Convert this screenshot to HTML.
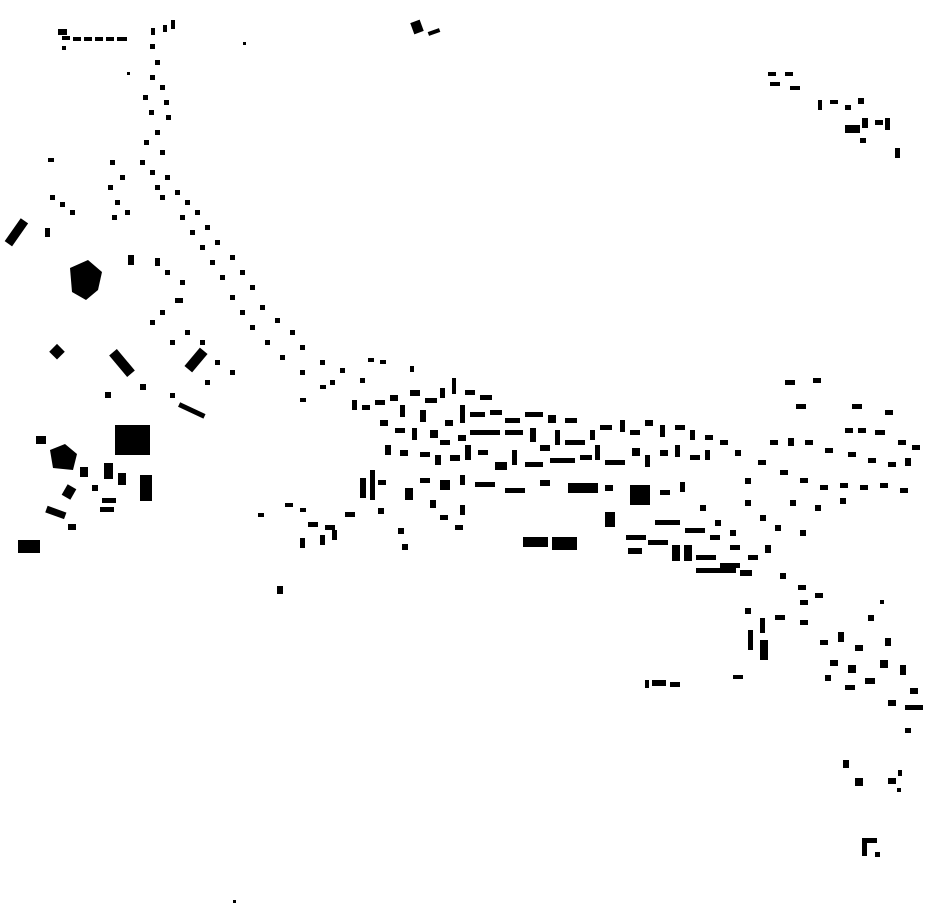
<!DOCTYPE html>
<html><head><meta charset="utf-8"><style>html,body{margin:0;padding:0;background:#fff}svg{display:block}</style></head>
<body>
<svg width="930" height="924" viewBox="0 0 930 924" xmlns="http://www.w3.org/2000/svg">
<g fill="#000">
<rect x="58" y="29" width="9" height="6"/>
<rect x="62" y="36" width="8" height="4"/><rect x="73" y="37" width="8" height="4"/><rect x="84" y="37" width="8" height="4"/><rect x="95" y="37" width="8" height="4"/><rect x="106" y="37" width="8" height="4"/><rect x="117" y="37" width="10" height="4"/>
<rect x="62" y="46" width="4" height="4"/>
<rect x="151" y="28" width="4" height="7"/><rect x="163" y="25" width="4" height="7"/><rect x="171" y="20" width="4" height="9"/><rect x="243" y="42" width="3" height="3"/>
<rect x="412" y="21" width="10" height="12" transform="rotate(-20 417 27)"/><rect x="428" y="30" width="12" height="4" transform="rotate(-20 434 32)"/>
<g>
<rect x="150" y="44" width="5" height="5"/><rect x="155" y="60" width="5" height="5"/><rect x="150" y="75" width="5" height="5"/><rect x="160" y="85" width="5" height="5"/><rect x="143" y="95" width="5" height="5"/><rect x="164" y="100" width="5" height="5"/><rect x="149" y="110" width="5" height="5"/><rect x="166" y="115" width="5" height="5"/><rect x="155" y="130" width="5" height="5"/><rect x="144" y="140" width="5" height="5"/><rect x="160" y="150" width="5" height="5"/><rect x="140" y="160" width="5" height="5"/><rect x="150" y="170" width="5" height="5"/><rect x="165" y="175" width="5" height="5"/><rect x="155" y="185" width="5" height="5"/><rect x="175" y="190" width="5" height="5"/><rect x="160" y="195" width="5" height="5"/><rect x="185" y="200" width="5" height="5"/><rect x="195" y="210" width="5" height="5"/><rect x="180" y="215" width="5" height="5"/><rect x="205" y="225" width="5" height="5"/><rect x="190" y="230" width="5" height="5"/><rect x="215" y="240" width="5" height="5"/><rect x="200" y="245" width="5" height="5"/><rect x="230" y="255" width="5" height="5"/><rect x="210" y="260" width="5" height="5"/><rect x="240" y="270" width="5" height="5"/><rect x="220" y="275" width="5" height="5"/><rect x="250" y="285" width="5" height="5"/><rect x="230" y="295" width="5" height="5"/><rect x="260" y="305" width="5" height="5"/><rect x="240" y="310" width="5" height="5"/><rect x="275" y="318" width="5" height="5"/><rect x="250" y="325" width="5" height="5"/><rect x="290" y="330" width="5" height="5"/><rect x="265" y="340" width="5" height="5"/><rect x="300" y="345" width="5" height="5"/><rect x="280" y="355" width="5" height="5"/><rect x="320" y="360" width="5" height="5"/><rect x="300" y="370" width="5" height="5"/><rect x="340" y="368" width="5" height="5"/><rect x="330" y="380" width="5" height="5"/><rect x="360" y="378" width="5" height="5"/><rect x="380" y="360" width="6" height="4"/><rect x="368" y="358" width="6" height="4"/><rect x="410" y="366" width="4" height="6"/>
<rect x="110" y="160" width="5" height="5"/><rect x="120" y="175" width="5" height="5"/><rect x="108" y="185" width="5" height="5"/><rect x="115" y="200" width="5" height="5"/><rect x="125" y="210" width="5" height="5"/><rect x="112" y="215" width="5" height="5"/><rect x="48" y="158" width="6" height="4"/><rect x="50" y="195" width="5" height="5"/><rect x="60" y="202" width="5" height="5"/><rect x="70" y="210" width="5" height="5"/><rect x="45" y="228" width="5" height="9"/><rect x="128" y="255" width="6" height="10"/><rect x="155" y="258" width="5" height="8"/><rect x="165" y="270" width="5" height="5"/><rect x="180" y="280" width="5" height="5"/><rect x="175" y="298" width="8" height="5"/><rect x="160" y="310" width="5" height="5"/><rect x="150" y="320" width="5" height="5"/><rect x="185" y="330" width="5" height="5"/><rect x="200" y="340" width="5" height="5"/><rect x="170" y="340" width="5" height="5"/><rect x="215" y="360" width="5" height="5"/><rect x="230" y="370" width="5" height="5"/><rect x="205" y="380" width="5" height="5"/><rect x="170" y="393" width="5" height="5"/><rect x="300" y="398" width="6" height="4"/><rect x="320" y="385" width="6" height="4"/><rect x="140" y="384" width="6" height="6"/><rect x="105" y="392" width="6" height="6"/>
</g>
<rect x="2" y="228" width="28" height="9" transform="rotate(-55 16 232)"/>
<path d="M70 268l18-8 14 12-4 18-12 10-14-8z"/>
<rect x="52" y="346" width="11" height="11" transform="rotate(45 57 351)"/>
<rect x="108" y="358" width="28" height="10" transform="rotate(50 122 363)"/>
<rect x="184" y="355" width="24" height="10" transform="rotate(-50 196 360)"/>
<rect x="178" y="408" width="28" height="5" transform="rotate(25 192 410)"/>
<rect x="115" y="425" width="35" height="30"/>
<path d="M50 450l15-6 12 10-4 16-20-2z"/>
<rect x="140" y="475" width="12" height="26"/><rect x="104" y="463" width="9" height="16"/><rect x="64" y="486" width="10" height="12" transform="rotate(30 69 492)"/><rect x="18" y="540" width="22" height="13"/><rect x="46" y="509" width="20" height="7" transform="rotate(20 56 512)"/><rect x="36" y="436" width="10" height="8"/><rect x="80" y="467" width="8" height="10"/><rect x="118" y="473" width="8" height="12"/><rect x="102" y="498" width="14" height="5"/><rect x="100" y="507" width="14" height="5"/><rect x="68" y="524" width="8" height="6"/><rect x="92" y="485" width="6" height="6"/>
<g>
<rect x="352" y="400" width="5" height="10"/><rect x="362" y="405" width="8" height="5"/><rect x="375" y="400" width="10" height="5"/><rect x="390" y="395" width="8" height="6"/><rect x="400" y="405" width="5" height="12"/><rect x="410" y="390" width="10" height="6"/><rect x="425" y="398" width="12" height="5"/><rect x="420" y="410" width="6" height="12"/><rect x="440" y="388" width="5" height="10"/><rect x="452" y="378" width="4" height="16"/><rect x="465" y="390" width="10" height="5"/><rect x="480" y="395" width="12" height="5"/><rect x="460" y="405" width="5" height="18"/><rect x="470" y="412" width="15" height="5"/><rect x="490" y="410" width="12" height="5"/><rect x="505" y="418" width="15" height="5"/><rect x="525" y="412" width="18" height="5"/><rect x="548" y="415" width="8" height="8"/><rect x="565" y="418" width="12" height="5"/><rect x="380" y="420" width="8" height="6"/><rect x="395" y="428" width="10" height="5"/><rect x="412" y="428" width="5" height="12"/><rect x="430" y="430" width="8" height="8"/><rect x="445" y="420" width="8" height="6"/><rect x="440" y="440" width="10" height="5"/><rect x="458" y="435" width="8" height="6"/><rect x="470" y="430" width="30" height="5"/><rect x="505" y="430" width="18" height="5"/><rect x="530" y="428" width="6" height="14"/><rect x="540" y="445" width="10" height="6"/><rect x="555" y="430" width="5" height="15"/><rect x="565" y="440" width="20" height="5"/><rect x="590" y="430" width="5" height="10"/><rect x="600" y="425" width="12" height="5"/><rect x="620" y="420" width="5" height="12"/><rect x="630" y="430" width="10" height="5"/><rect x="645" y="420" width="8" height="6"/><rect x="660" y="425" width="5" height="12"/><rect x="675" y="425" width="10" height="5"/><rect x="690" y="430" width="5" height="10"/><rect x="705" y="435" width="8" height="5"/><rect x="385" y="445" width="6" height="10"/><rect x="400" y="450" width="8" height="6"/><rect x="420" y="452" width="10" height="5"/><rect x="435" y="455" width="6" height="10"/><rect x="450" y="455" width="10" height="6"/><rect x="465" y="445" width="6" height="15"/><rect x="478" y="450" width="10" height="5"/><rect x="495" y="462" width="12" height="8"/><rect x="512" y="450" width="5" height="15"/><rect x="525" y="462" width="18" height="5"/><rect x="550" y="458" width="25" height="5"/><rect x="580" y="455" width="12" height="5"/><rect x="595" y="445" width="5" height="15"/><rect x="605" y="460" width="20" height="5"/><rect x="632" y="448" width="8" height="8"/><rect x="645" y="455" width="5" height="12"/><rect x="660" y="450" width="8" height="6"/><rect x="675" y="445" width="5" height="12"/><rect x="690" y="455" width="10" height="5"/><rect x="705" y="450" width="5" height="10"/><rect x="720" y="440" width="8" height="5"/><rect x="735" y="450" width="6" height="6"/><rect x="370" y="470" width="5" height="30"/><rect x="378" y="480" width="8" height="5"/><rect x="405" y="488" width="8" height="12"/><rect x="420" y="478" width="10" height="5"/><rect x="440" y="480" width="10" height="10"/><rect x="460" y="475" width="5" height="10"/><rect x="475" y="482" width="20" height="5"/><rect x="505" y="488" width="20" height="5"/><rect x="540" y="480" width="10" height="6"/><rect x="568" y="483" width="30" height="10"/><rect x="605" y="485" width="8" height="6"/><rect x="630" y="485" width="20" height="20"/><rect x="660" y="490" width="10" height="5"/><rect x="680" y="482" width="5" height="10"/><rect x="360" y="478" width="6" height="20"/><rect x="430" y="500" width="6" height="8"/><rect x="460" y="505" width="5" height="10"/><rect x="440" y="515" width="8" height="5"/><rect x="455" y="525" width="8" height="5"/>
</g>
<rect x="523" y="537" width="25" height="10"/><rect x="552" y="537" width="25" height="13"/>
<rect x="605" y="512" width="10" height="15"/><rect x="628" y="548" width="14" height="6"/><rect x="626" y="535" width="20" height="5"/><rect x="648" y="540" width="20" height="5"/><rect x="672" y="545" width="8" height="16"/><rect x="684" y="545" width="8" height="16"/><rect x="696" y="555" width="20" height="5"/><rect x="696" y="568" width="40" height="5"/><rect x="720" y="563" width="20" height="5"/><rect x="740" y="570" width="12" height="6"/><rect x="655" y="520" width="25" height="5"/><rect x="685" y="528" width="20" height="5"/><rect x="710" y="535" width="10" height="5"/><rect x="730" y="545" width="10" height="5"/><rect x="748" y="555" width="10" height="5"/><rect x="765" y="545" width="6" height="8"/><rect x="700" y="505" width="6" height="6"/><rect x="715" y="520" width="6" height="6"/><rect x="730" y="530" width="6" height="6"/><rect x="745" y="500" width="6" height="6"/><rect x="760" y="515" width="6" height="6"/>
<g>
<rect x="768" y="72" width="8" height="4"/><rect x="785" y="72" width="8" height="4"/><rect x="770" y="82" width="10" height="4"/><rect x="790" y="86" width="10" height="4"/><rect x="818" y="100" width="4" height="10"/><rect x="830" y="100" width="8" height="4"/><rect x="845" y="105" width="6" height="5"/><rect x="858" y="98" width="6" height="6"/><rect x="845" y="125" width="15" height="8"/><rect x="862" y="118" width="6" height="10"/><rect x="875" y="120" width="8" height="5"/><rect x="885" y="118" width="5" height="12"/><rect x="895" y="148" width="5" height="10"/><rect x="860" y="138" width="6" height="5"/>
<rect x="785" y="380" width="10" height="5"/><rect x="813" y="378" width="8" height="5"/><rect x="796" y="404" width="10" height="5"/><rect x="852" y="404" width="10" height="5"/><rect x="885" y="410" width="8" height="5"/><rect x="845" y="428" width="8" height="5"/><rect x="858" y="428" width="8" height="5"/><rect x="875" y="430" width="10" height="5"/><rect x="898" y="440" width="8" height="5"/><rect x="912" y="445" width="8" height="5"/><rect x="770" y="440" width="8" height="5"/><rect x="788" y="438" width="6" height="8"/><rect x="805" y="440" width="8" height="5"/><rect x="825" y="448" width="8" height="5"/><rect x="848" y="452" width="8" height="5"/><rect x="868" y="458" width="8" height="5"/><rect x="888" y="462" width="8" height="5"/><rect x="905" y="458" width="6" height="8"/><rect x="758" y="460" width="8" height="5"/><rect x="780" y="470" width="8" height="5"/><rect x="800" y="478" width="8" height="5"/><rect x="820" y="485" width="8" height="5"/><rect x="840" y="483" width="8" height="5"/><rect x="860" y="485" width="8" height="5"/><rect x="880" y="483" width="8" height="5"/><rect x="900" y="488" width="8" height="5"/><rect x="745" y="478" width="6" height="6"/><rect x="790" y="500" width="6" height="6"/><rect x="815" y="505" width="6" height="6"/><rect x="840" y="498" width="6" height="6"/><rect x="775" y="525" width="6" height="6"/><rect x="800" y="530" width="6" height="6"/>
<rect x="780" y="573" width="6" height="6"/><rect x="798" y="585" width="8" height="5"/><rect x="815" y="593" width="8" height="5"/><rect x="800" y="600" width="8" height="5"/><rect x="775" y="615" width="10" height="5"/><rect x="760" y="618" width="5" height="15"/><rect x="748" y="630" width="5" height="20"/><rect x="760" y="640" width="8" height="20"/><rect x="745" y="608" width="6" height="6"/><rect x="800" y="620" width="8" height="5"/><rect x="820" y="640" width="8" height="5"/><rect x="838" y="632" width="6" height="10"/><rect x="855" y="645" width="8" height="6"/><rect x="880" y="660" width="8" height="8"/><rect x="848" y="665" width="8" height="8"/><rect x="865" y="678" width="10" height="6"/><rect x="900" y="665" width="6" height="10"/><rect x="910" y="688" width="8" height="6"/><rect x="905" y="705" width="18" height="5"/><rect x="888" y="700" width="8" height="6"/><rect x="830" y="660" width="8" height="6"/><rect x="845" y="685" width="10" height="5"/><rect x="825" y="675" width="6" height="6"/><rect x="868" y="615" width="6" height="6"/><rect x="880" y="600" width="4" height="4"/><rect x="885" y="638" width="6" height="8"/><rect x="905" y="728" width="6" height="5"/>
<rect x="843" y="760" width="6" height="8"/><rect x="855" y="778" width="8" height="8"/><rect x="888" y="778" width="8" height="6"/><rect x="898" y="770" width="4" height="6"/><rect x="897" y="788" width="4" height="4"/><rect x="862" y="838" width="5" height="18"/><rect x="862" y="838" width="15" height="5"/><rect x="875" y="852" width="5" height="5"/>
</g>
<g>
<rect x="258" y="513" width="6" height="4"/><rect x="285" y="503" width="8" height="4"/><rect x="300" y="508" width="6" height="4"/><rect x="308" y="522" width="10" height="5"/><rect x="325" y="525" width="10" height="5"/><rect x="345" y="512" width="10" height="5"/><rect x="300" y="538" width="5" height="10"/><rect x="320" y="535" width="5" height="10"/><rect x="332" y="530" width="5" height="10"/><rect x="378" y="508" width="6" height="6"/><rect x="398" y="528" width="6" height="6"/><rect x="402" y="544" width="6" height="6"/><rect x="277" y="586" width="6" height="8"/><rect x="645" y="680" width="4" height="8"/><rect x="652" y="680" width="14" height="6"/><rect x="670" y="682" width="10" height="5"/><rect x="733" y="675" width="10" height="4"/><rect x="233" y="900" width="3" height="3"/><rect x="127" y="72" width="3" height="3"/>
</g>
</g>
</svg>
</body></html>
